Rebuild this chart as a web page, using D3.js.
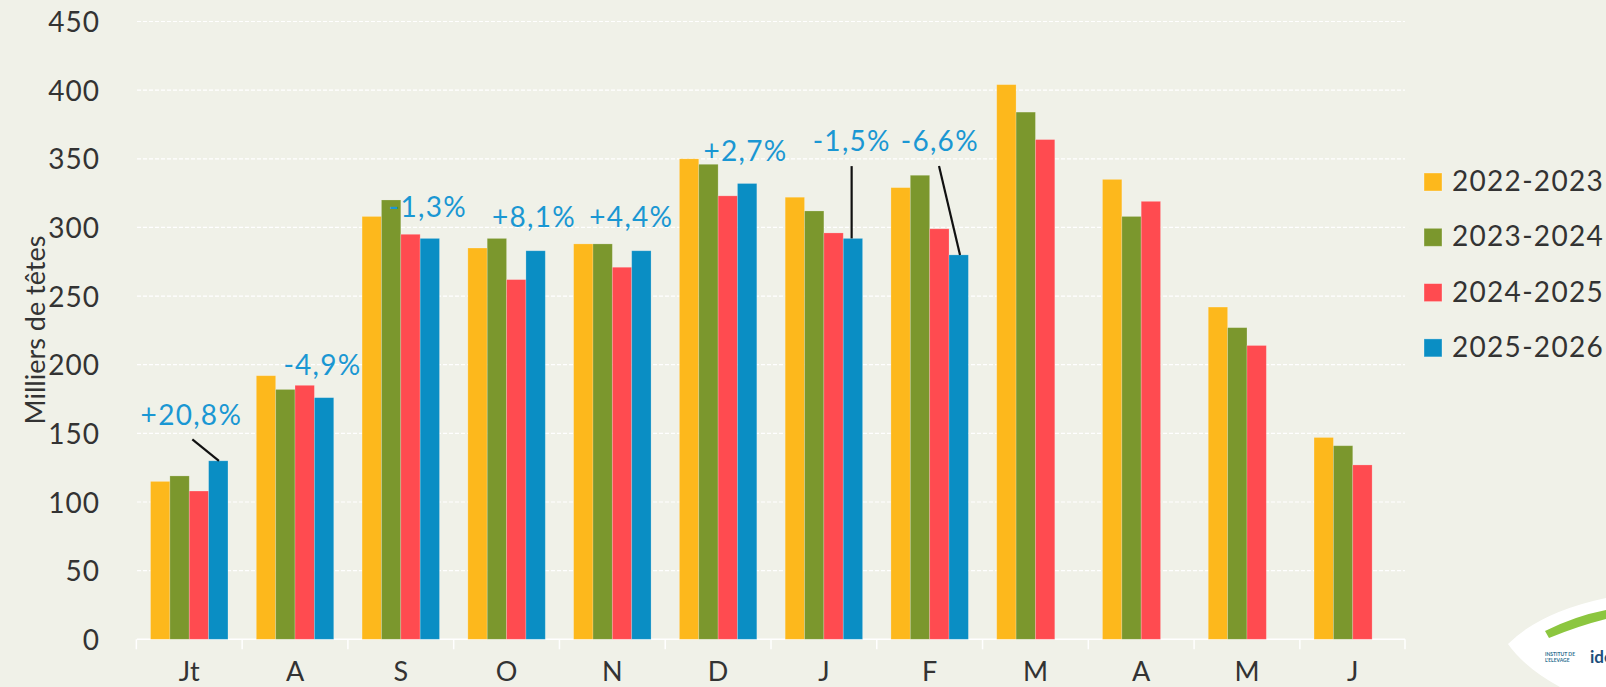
<!DOCTYPE html>
<html>
<head>
<meta charset="utf-8">
<script src="https://cdn.jsdelivr.net/npm/d3@7/dist/d3.min.js"></script>
<style>
  html, body { margin: 0; padding: 0; background: #F0F1E8; }
  svg { display: block; }
  text { font-family: Lato, "Open Sans", sans-serif; }
</style>
</head>
<body>
<svg id="chart" width="1606" height="687"></svg>
<script>
// ---------- data ----------
const months = ["Jt", "A", "S", "O", "N", "D", "J", "F", "M", "A", "M", "J"];
const seriesNames = ["2022-2023", "2023-2024", "2024-2025", "2025-2026"];
const v2022_2023 = [115, 192, 308, 285, 288, 350, 322, 329, 404, 335, 242, 147];
const v2023_2024 = [119, 182, 320, 292, 288, 346, 312, 338, 384, 308, 227, 141];
const v2024_2025 = [108, 185, 295, 262, 271, 323, 296, 299, 364, 319, 214, 127];
const v2025_2026 = [130, 176, 292, 283, 283, 332, 292, 280, null, null, null, null];
const yTicks = [0, 50, 100, 150, 200, 250, 300, 350, 400, 450];
const changeLabels = ["+20,8%", "-4,9%", "-1,3%", "+8,1%", "+4,4%", "+2,7%", "-1,5%", "-6,6%"];
const changeMonths = [0, 1, 2, 3, 4, 5, 6, 7];

// ---------- style / layout ----------
const colors = ["#FDB81C", "#7B972D", "#FF4B50", "#0A8EC4"];
const labelColor = "#1A97D3";
const textColor = "#333333";
const margin = { left: 137, right: 1405, top: 21.5, bottom: 639.3 };
// label offsets relative to the 2025-2026 bar (left edge, top)
const labelLayout = [
  { dx: -68, dy: -36, line: [-16.3, -21.4, 10.3, 0] },
  { dx: -31, dy: -23 },
  { dx: -31.4, dy: -21.7 },
  { dx: -34, dy: -23.7 },
  { dx: -42.4, dy: -23.7 },
  { dx: -34, dy: -22.3 },
  { dx: -30.6, dy: -87.3, line: [8.4, -72.3, 8.4, 0] },
  { dx: -48.3, dy: -104, line: [-10, -89, 11, 0] }
];

const svg = d3.select("#chart");
svg.append("rect").attr("width", 1606).attr("height", 687).attr("fill", "#F0F1E8");

const series = [v2022_2023, v2023_2024, v2024_2025, v2025_2026];

const x0 = d3.scaleBand()
  .domain(d3.range(months.length))
  .range([margin.left, margin.right])
  .paddingInner(0.268)
  .paddingOuter(0.128);
const step = x0.step();
const x1 = d3.scaleBand()
  .domain(d3.range(seriesNames.length))
  .range([0, x0.bandwidth()])
  .padding(0);
const y = d3.scaleLinear().domain([0, 450]).range([margin.bottom, margin.top]);

// gridlines
svg.append("g")
  .selectAll("line")
  .data(yTicks.filter(d => d > 0))
  .join("line")
  .attr("x1", margin.left).attr("x2", margin.right)
  .attr("y1", d => y(d)).attr("y2", d => y(d))
  .attr("stroke", "#FFFFFF")
  .attr("stroke-width", 1.2)
  .attr("stroke-dasharray", "4,2");

// y axis
const yAxis = d3.axisLeft(y).tickValues(yTicks).tickSize(0).tickPadding(0);
const gy = svg.append("g").attr("transform", "translate(100,0)").call(yAxis);
gy.select(".domain").remove();
gy.selectAll("text")
  .attr("fill", textColor)
  .style("font-size", "28px")
  .style("letter-spacing", "1px")
  .attr("dy", "0.36em");

// x axis
const xAxis = d3.axisBottom(x0).tickSize(0).tickPadding(0).tickFormat(i => months[i]);
const gx = svg.append("g").attr("transform", `translate(0,${margin.bottom})`).call(xAxis);
gx.select(".domain").remove();
gx.selectAll("text")
  .attr("fill", textColor)
  .style("font-size", "27px")
  .attr("y", 42)
  .attr("dy", 0);

// baseline and category separators
svg.append("line")
  .attr("x1", margin.left).attr("x2", margin.right)
  .attr("y1", margin.bottom).attr("y2", margin.bottom)
  .attr("stroke", "#FFFFFF").attr("stroke-width", 1.5);
const boundaries = d3.range(months.length).map(i => x0(i) - step * x0.paddingInner() / 2).concat([margin.right]);
svg.append("g")
  .selectAll("line")
  .data(boundaries)
  .join("line")
  .attr("x1", d => d).attr("x2", d => d)
  .attr("y1", margin.bottom).attr("y2", margin.bottom + 10)
  .attr("stroke", "#FFFFFF").attr("stroke-width", 1.5);

// bars
const barData = [];
series.forEach((vals, s) => vals.forEach((v, i) => { if (v != null) barData.push({ s, i, v }); }));
svg.append("g")
  .selectAll("rect")
  .data(barData)
  .join("rect")
  .attr("x", d => x0(d.i) + x1(d.s))
  .attr("width", x1.bandwidth())
  .attr("y", d => y(d.v))
  .attr("height", d => y(0) - y(d.v))
  .attr("fill", d => colors[d.s])
  .attr("stroke", "rgba(255,255,255,0.25)")
  .attr("stroke-width", 0.8);

// change labels
const ann = svg.append("g");
changeLabels.forEach((lab, k) => {
  const i = changeMonths[k];
  const bx = x0(i) + x1(3);
  const by = y(v2025_2026[i]);
  const L = labelLayout[k];
  if (L.line) {
    ann.append("line")
      .attr("x1", bx + L.line[0]).attr("y1", by + L.line[1])
      .attr("x2", bx + L.line[2]).attr("y2", by + L.line[3])
      .attr("stroke", "#111").attr("stroke-width", 2.2);
  }
  ann.append("text")
    .attr("x", bx + L.dx).attr("y", by + L.dy)
    .attr("fill", labelColor)
    .style("font-size", "28px")
    .style("letter-spacing", "1.3px")
    .text(lab);
});

// y axis title
svg.append("text")
  .attr("transform", "translate(45,330) rotate(-90)")
  .attr("text-anchor", "middle")
  .attr("fill", textColor)
  .style("font-size", "27px")
  .text("Milliers de têtes");

// legend
const leg = svg.append("g");
seriesNames.forEach((name, s) => {
  const ly = 173 + s * 55.3;
  leg.append("rect").attr("x", 1424).attr("y", ly).attr("width", 18).attr("height", 18)
    .attr("fill", colors[s]).attr("stroke", "rgba(255,255,255,0.4)").attr("stroke-width", 0.8);
  leg.append("text").attr("x", 1452).attr("y", ly + 18)
    .attr("fill", textColor)
    .style("font-size", "28px")
    .style("letter-spacing", "1.3px")
    .text(name);
});

// logo (bottom right)
const logo = svg.append("g");
logo.append("path")
  .attr("d", "M1508,644 Q1540,612 1606,598 L1606,687 L1560,687 Q1525,668 1508,644 Z")
  .attr("fill", "#FFFFFF");
logo.append("path")
  .attr("d", "M1545,631 Q1575,616 1606,610 L1606,619 Q1578,626 1549,638 Z")
  .attr("fill", "#8CC63F");
logo.append("text").attr("x", 1545).attr("y", 656).attr("fill", "#2B6E8F")
  .style("font-size", "5px").style("font-weight", "bold").text("INSTITUT DE");
logo.append("text").attr("x", 1545).attr("y", 662).attr("fill", "#2B6E8F")
  .style("font-size", "5px").style("font-weight", "bold").text("L'ELEVAGE");
logo.append("text").attr("x", 1590).attr("y", 663).attr("fill", "#1D4F7C")
  .style("font-size", "17px").style("font-weight", "bold").text("idele");
</script>
</body>
</html>
